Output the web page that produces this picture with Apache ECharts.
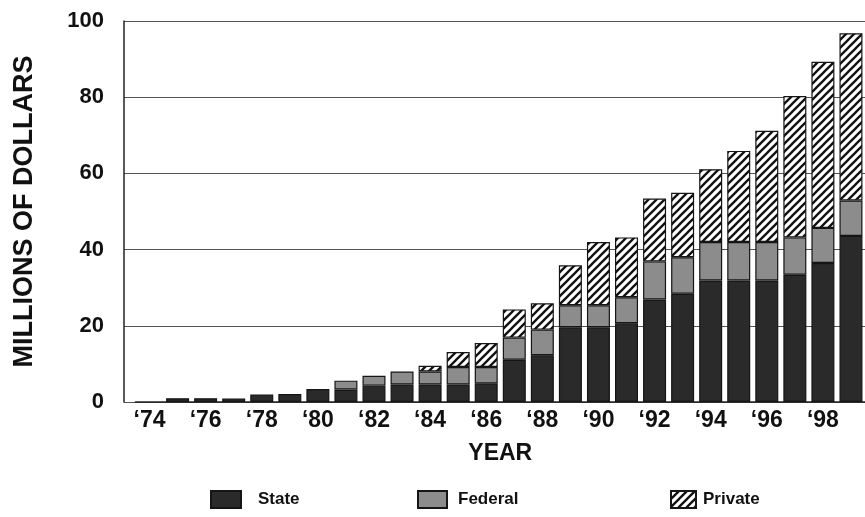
<!DOCTYPE html>
<html>
<head>
<meta charset="utf-8">
<script src="https://cdn.jsdelivr.net/npm/echarts@6/dist/echarts.min.js"></script>
<style>
html,body{margin:0;padding:0;background:#fff;}
#chart{width:865px;height:517px;}
</style>
</head>
<body>
<div id="chart"></div>
<script>
// ---- data ----
var yearLabels = ['\u201874','\u201875','\u201876','\u201877','\u201878','\u201879','\u201880','\u201881','\u201882','\u201883','\u201884','\u201885','\u201886','\u201887','\u201888','\u201889','\u201890','\u201891','\u201892','\u201893','\u201894','\u201895','\u201896','\u201897','\u201898','\u201899'];
var stateValues   = [0, 1.0, 1.0, 0.9, 2.0, 2.1, 3.4, 3.3, 4.3, 4.6, 4.6, 4.6, 4.9, 11.1, 12.3, 19.6, 19.6, 20.7, 26.9, 28.4, 31.9, 31.9, 31.9, 33.4, 36.5, 43.6];
var federalValues = [0, 0, 0, 0, 0, 0, 0, 2.3, 2.6, 3.4, 3.4, 4.6, 4.3, 5.8, 6.7, 5.8, 5.8, 6.8, 10.0, 9.6, 10.1, 10.1, 10.1, 9.8, 9.2, 9.3];
var privateValues = [0, 0, 0, 0, 0, 0, 0, 0, 0, 0, 1.5, 3.9, 6.3, 7.4, 6.9, 10.5, 16.6, 15.7, 16.5, 16.9, 19.1, 23.9, 29.2, 37.1, 43.6, 43.9];
var yTicks = [0, 20, 40, 60, 80, 100];

// zero-height segments are not drawn (avoid stray border lines)
function seg(arr) { return arr.map(function (v) { return v === 0 ? '-' : v; }); }

// ---- hatch pattern ----
function makeHatch() {
  var c = document.createElement('canvas');
  c.width = 8; c.height = 8;
  var ctx = c.getContext('2d');
  ctx.fillStyle = '#ffffff';
  ctx.fillRect(0, 0, 8, 8);
  ctx.strokeStyle = '#111111';
  ctx.lineWidth = 2.3;
  ctx.beginPath();
  ctx.moveTo(-2, 10); ctx.lineTo(10, -2);
  ctx.moveTo(-2, 2); ctx.lineTo(2, -2);
  ctx.moveTo(6, 10); ctx.lineTo(10, 6);
  ctx.stroke();
  return c;
}
var hatch = { image: makeHatch(), repeat: 'repeat' };

var FONT = '"Liberation Sans", Arial, sans-serif';
var chart = echarts.init(document.getElementById('chart'), null, {renderer: 'canvas'});
var barBorder = { borderColor: '#151515', borderWidth: 1.2 };

chart.setOption({
  animation: false,
  backgroundColor: '#ffffff',
  grid: [
    { left: 135.5, right: 0, top: 21, bottom: 115 },
    { left: 124, right: 0, top: 21, bottom: 115 }
  ],
  legend: [
    { data: ['State'], left: 205, top: 485, icon: 'rect', itemWidth: 30, itemHeight: 17,
      textStyle: { fontFamily: FONT, fontWeight: 'bold', fontSize: 17, color: '#111', padding: [0,0,0,12] } },
    { data: ['Federal'], left: 412, top: 485, icon: 'rect', itemWidth: 29, itemHeight: 17,
      textStyle: { fontFamily: FONT, fontWeight: 'bold', fontSize: 17, color: '#111', padding: [0,0,0,6] } },
    { data: ['Private'], left: 665, top: 485, icon: 'rect', itemWidth: 25, itemHeight: 17,
      textStyle: { fontFamily: FONT, fontWeight: 'bold', fontSize: 17, color: '#111', padding: [0,0,0,2] } }
  ],
  xAxis: [
    { type: 'category', gridIndex: 0, data: yearLabels,
      axisLine: { show: true, lineStyle: { color: '#222', width: 1.5 } },
      axisTick: { show: false },
      axisLabel: { interval: 1, margin: 7, color: '#111', fontFamily: FONT, fontWeight: 'bold', fontSize: 23 },
      name: 'YEAR', nameLocation: 'middle', nameGap: 40,
      nameTextStyle: { fontFamily: FONT, fontWeight: 'bold', fontSize: 23, color: '#111' }
    },
    { type: 'value', gridIndex: 1, show: false, min: 0, max: 1 }
  ],
  yAxis: [
    { type: 'value', gridIndex: 0, min: 0, max: 100, interval: 20, show: false, splitLine: { show: false } },
    { type: 'value', gridIndex: 1, min: 0, max: 100, interval: 20,
      axisLine: { show: true, lineStyle: { color: '#222', width: 1.5 } },
      axisTick: { show: false },
      splitLine: { show: true, lineStyle: { color: '#555', width: 1.1 } },
      axisLabel: { margin: 20, color: '#111', fontFamily: FONT, fontWeight: 'bold', fontSize: 22,
        formatter: function (v) { return yTicks.indexOf(v) >= 0 ? String(v) : ''; } },
      name: 'MILLIONS OF DOLLARS', nameLocation: 'middle', nameGap: 86,
      nameTextStyle: { fontFamily: FONT, fontWeight: 'bold', fontSize: 27, color: '#111' }
    }
  ],
  series: [
    { name: 'State', type: 'bar', stack: 'total', xAxisIndex: 0, yAxisIndex: 0, data: seg(stateValues),
      barWidth: 23, itemStyle: Object.assign({ color: '#2a2a2a' }, barBorder) },
    { name: 'Federal', type: 'bar', stack: 'total', xAxisIndex: 0, yAxisIndex: 0, data: seg(federalValues),
      barWidth: 23, itemStyle: Object.assign({ color: '#8c8c8c' }, barBorder) },
    { name: 'Private', type: 'bar', stack: 'total', xAxisIndex: 0, yAxisIndex: 0, data: seg(privateValues),
      barWidth: 23, itemStyle: Object.assign({ color: hatch }, barBorder) }
  ]
});
</script>
</body>
</html>
